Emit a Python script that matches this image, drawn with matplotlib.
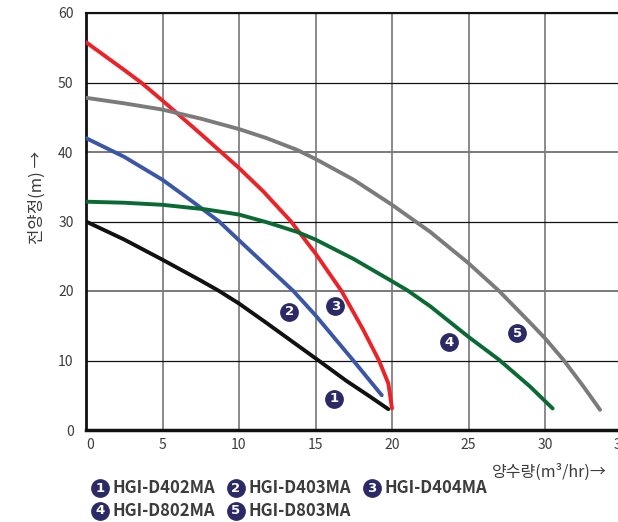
import matplotlib
matplotlib.use("Agg")
import matplotlib.pyplot as plt

plt.rcParams["font.family"] = ["Noto Sans CJK KR", "DejaVu Sans"]

# ---- data ----------------------------------------------------------------
x1 = [0, 2.5, 5, 7.5, 8.7, 10, 11.8, 13.5, 15.2, 17, 18.5, 19.76]
y1 = [30, 27.4, 24.5, 21.5, 20.0, 18.2, 15.4, 12.7, 10.0, 7.1, 4.9, 3.0]

x2 = [0, 2.5, 5, 7, 8.7, 10, 11.8, 13.55, 15, 17.47, 19.33]
y2 = [42, 39.3, 36.0, 32.8, 30.0, 27.3, 23.6, 20.0, 16.5, 10.0, 5.0]

x3 = [0, 2.5, 3.6, 5, 7.5, 10, 11.6, 13.4, 15, 16.7, 18.1, 19.15, 19.76, 20.0]
y3 = [55.8, 51.8, 50.0, 47.4, 42.6, 37.7, 34.3, 30.0, 25.4, 20.0, 14.5, 10.0, 6.7, 3.1]

x4 = [0, 2.5, 5, 7.8, 10, 11.8, 13.8, 15, 17.5, 20, 21, 22.5, 25, 27, 29, 30.5]
y4 = [32.85, 32.7, 32.4, 31.75, 31.0, 29.9, 28.5, 27.4, 24.6, 21.4, 20.1, 17.8, 13.4, 10.1, 6.3, 3.1]

x5 = [0, 2.5, 5, 7.5, 10, 11.8, 13.8, 15, 17.5, 20, 22.5, 25, 27, 29, 30, 31.2, 32.5, 33.6]
y5 = [47.8, 47.0, 46.1, 44.8, 43.3, 42.0, 40.3, 39.0, 36.0, 32.4, 28.5, 24.0, 20.0, 15.5, 13.2, 10.1, 6.3, 2.9]

SERIES = [(x1, y1), (x2, y2), (x3, y3), (x4, y4), (x5, y5)]
MODELS = ["HGI-D402MA", "HGI-D403MA", "HGI-D404MA", "HGI-D802MA", "HGI-D803MA"]
BADGE_XY = [(16.2, 4.5), (13.3, 17.0), (16.3, 17.8), (23.7, 12.6), (28.2, 13.9)]

X_TICKS = [0, 5, 10, 15, 20, 25, 30, 35]
Y_TICKS = [0, 10, 20, 30, 40, 50, 60]

COLORS = ["#111111", "#3a56a5", "#ec2229", "#0b6a34", "#7b7b7c"]
NAVY = "#2c2a66"
TXT = "#3c3c3c"


def badge(ax, x, y, num, transform=None):
    kw = {} if transform is None else {"transform": transform}
    ax.plot([x], [y], marker="o", ms=12.5, mfc=NAVY, mec=NAVY,
            clip_on=False, zorder=5, **kw)
    ax.text(x, y, str(num), color="white", fontsize=9.5, weight="bold",
            ha="center", va="center", family="DejaVu Sans", zorder=6,
            clip_on=False, **kw)


fig = plt.figure(figsize=(6.18, 5.22), dpi=100)
ax = fig.add_axes([86 / 618, 1 - 430 / 522, 535.5 / 618, 417 / 522])

for xv in X_TICKS[1:]:
    ax.axvline(xv, color="#8a8a8a", lw=1.4, zorder=1)
for yv in Y_TICKS[1:]:
    if yv in (20, 40):
        ax.axhline(yv, color="#7a7a7a", lw=1.4, zorder=1)
    else:
        ax.axhline(yv, color="#111111", lw=0.9, zorder=1)

for (xs, ys), c in zip(SERIES, COLORS):
    ax.plot(xs, ys, color=c, lw=2.8, solid_capstyle="round",
            solid_joinstyle="round", zorder=3)

for i, (bx, by) in enumerate(BADGE_XY):
    badge(ax, bx, by, i + 1)

ax.set_xlim(0, 35)
ax.set_ylim(0, 60)
ax.set_xticks(X_TICKS)
ax.set_yticks(Y_TICKS)
ax.tick_params(length=0, labelsize=10, colors=TXT)
ax.tick_params(axis="y", pad=9)
ax.tick_params(axis="x", pad=6)
ax.get_xticklabels()[0].set_horizontalalignment("left")
ax.spines["right"].set_visible(False)
ax.spines["left"].set_linewidth(2.0)
ax.spines["bottom"].set_linewidth(2.5)
ax.spines["top"].set_linewidth(1.5)
for s in ["left", "bottom", "top"]:
    ax.spines[s].set_color("#111111")

fig.text(37 / 618, 1 - 197 / 522, "전양정(m) →", rotation=90, ha="center",
         va="center", fontsize=12, color=TXT)
fig.text(492 / 618, 1 - 472 / 522, "양수량(m³/hr)→", ha="left",
         va="center", fontsize=11.5, color=TXT)

# legend rows
LEG_POS = [(100, 488), (236, 488), (372, 488), (100, 511), (236, 511)]
for i, (m, (px, py)) in enumerate(zip(MODELS, LEG_POS)):
    badge(ax, px / 618, 1 - py / 522, i + 1, transform=fig.transFigure)
    fig.text((px + 13) / 618, 1 - py / 522, m, color=TXT, fontsize=12,
             ha="left", va="center", weight="bold")

fig.savefig("out.png", dpi=100)
